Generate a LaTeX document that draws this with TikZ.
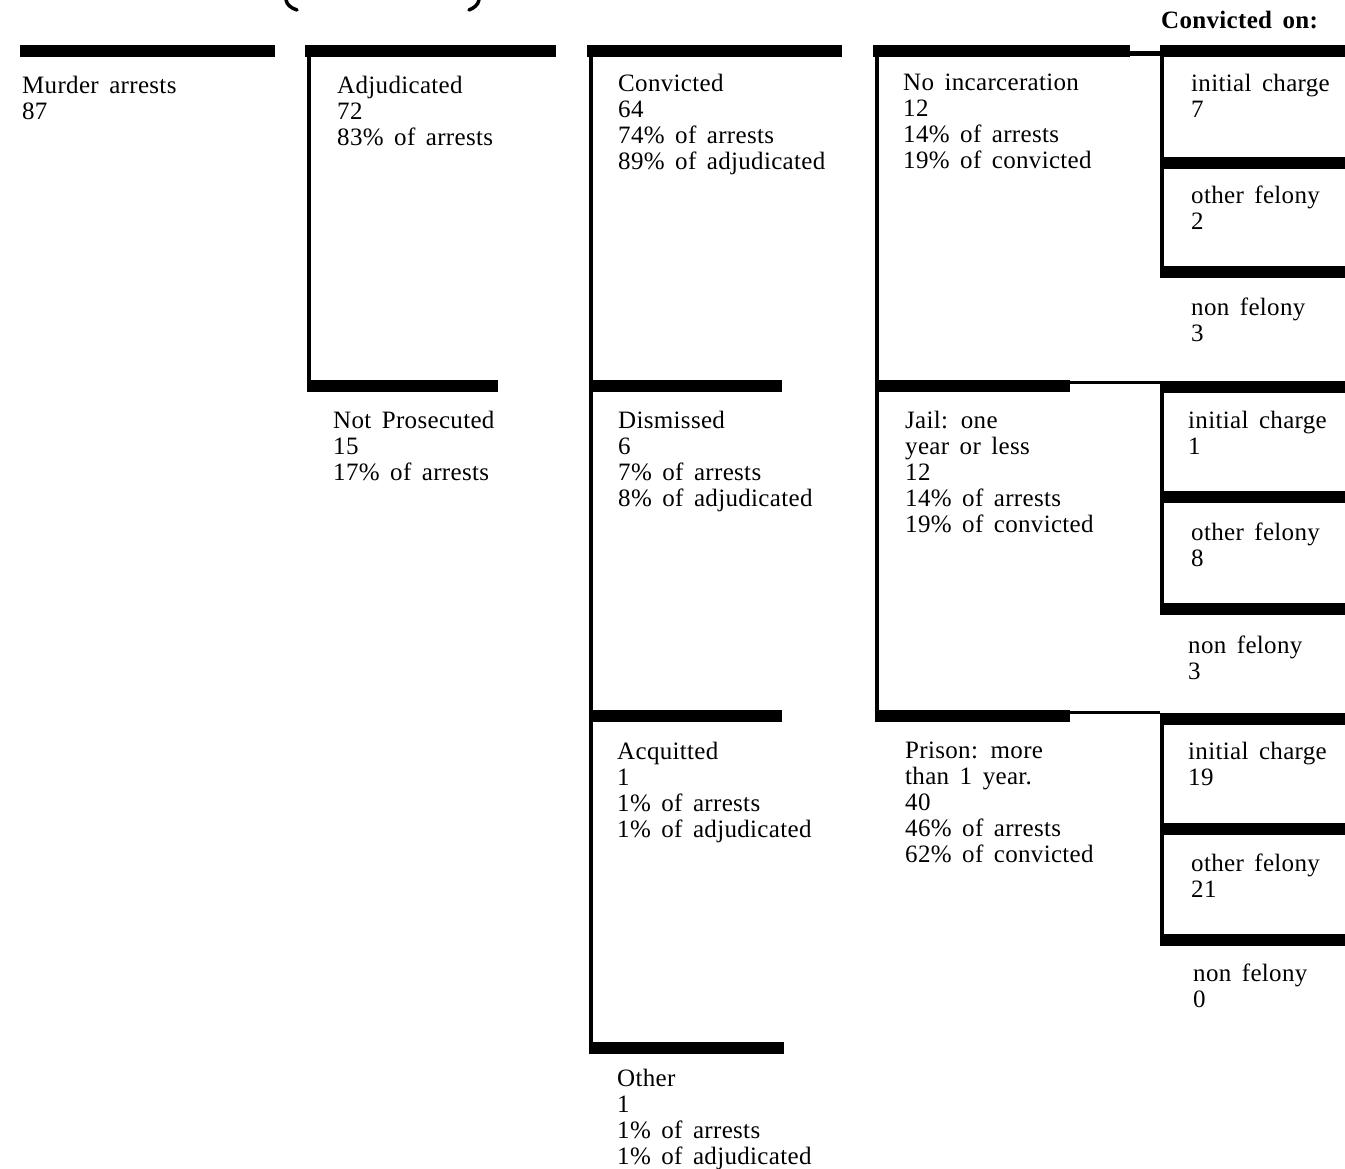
\documentclass[tikz,border=0pt]{standalone}
\usepackage{fontspec}
\setmainfont{Liberation Serif}[LetterSpace=1.3, WordSpace=1.6]
\begin{document}
\begin{tikzpicture}[x=1pt,y=-1pt,
  bar/.style={line width=11.5pt},
  vline/.style={line width=4pt},
  thinline/.style={line width=3pt},
  lbl/.style={anchor=north west, inner sep=0pt, align=left, font=\fontsize{25}{26}\selectfont},
  paren/.style={line width=3.5pt, line cap=round}]
\useasboundingbox (0,0) rectangle (1345,1169);

% partial brackets at the top
\coordinate (pl1) at (286,0); \coordinate (pl2) at (297,10);
\coordinate (pr1) at (479,0); \coordinate (pr2) at (469,10);
\draw[paren] (pl1) .. controls (287,5) and (291,8) .. (pl2);
\draw[paren] (pr1) .. controls (478,5) and (474,8) .. (pr2);

\node[anchor=north west, inner sep=0pt, font=\fontsize{25}{26}\selectfont\bfseries] (convon) at (1161,11) {Convicted on:};

% column 1
\draw[bar] (20,51) -- (275,51);
\node[lbl] (arrests) at (22,76) {Murder arrests\\87};

% column 2
\draw[bar] (305,51) -- (556,51);
\draw[vline] (309,51) -- (309,388);
\draw[bar] (307,386) -- (498,386);
\node[lbl] (adj) at (337,76) {Adjudicated\\72\\83\% of arrests};
\node[lbl] (notpros) at (333,411) {Not Prosecuted\\15\\17\% of arrests};

% column 3
\draw[bar] (587,51) -- (842,51);
\draw[vline] (591,51) -- (591,1050);
\draw[bar] (589,386) -- (782,386);
\draw[bar] (589,716) -- (782,716);
\draw[bar] (589,1048) -- (784,1048);
\node[lbl] (conv) at (618,74) {Convicted\\64\\74\% of arrests\\89\% of adjudicated};
\node[lbl] (dism) at (618,411) {Dismissed\\6\\7\% of arrests\\8\% of adjudicated};
\node[lbl] (acq) at (617,742) {Acquitted\\1\\1\% of arrests\\1\% of adjudicated};
\node[lbl] (other) at (617,1069) {Other\\1\\1\% of arrests\\1\% of adjudicated};

% column 4
\draw[bar] (873,51) -- (1130,51);
\draw[line width=5pt] (1130,54) -- (1160,54);
\draw[bar] (1160,51) -- (1345,51);
\draw[vline] (877,51) -- (877,718);
\draw[bar] (875,386) -- (1070,386);
\draw[thinline] (1070,382.5) -- (1160,382.5);
\draw[bar] (875,716) -- (1070,716);
\draw[thinline] (1070,712) -- (1160,712);
\node[lbl] (noinc) at (903,74) {No incarceration\\12\\14\% of arrests\\19\% of convicted};
\node[lbl] (jail) at (905,411) {Jail: one\\year or less\\12\\14\% of arrests\\19\% of convicted};
\node[lbl] (prison) at (905,742) {Prison: more\\than 1 year.\\40\\46\% of arrests\\62\% of convicted};

% column 5, group 1
\draw[vline] (1162,51) -- (1162,274);
\draw[bar] (1160,163) -- (1345,163);
\draw[bar] (1160,272) -- (1345,272);
\node[lbl] (ic1) at (1191,74) {initial charge\\7};
\node[lbl] (of1) at (1191,186) {other felony\\2};
\node[lbl] (nf1) at (1191,298) {non felony\\3};

% column 5, group 2
\draw[bar] (1160,387) -- (1345,387);
\draw[vline] (1162,387) -- (1162,611);
\draw[bar] (1160,497) -- (1345,497);
\draw[bar] (1160,609) -- (1345,609);
\node[lbl] (ic2) at (1188,411) {initial charge\\1};
\node[lbl] (of2) at (1191,523) {other felony\\8};
\node[lbl] (nf2) at (1188,636) {non felony\\3};

% column 5, group 3
\draw[bar] (1160,719) -- (1345,719);
\draw[vline] (1162,719) -- (1162,942);
\draw[bar] (1160,829) -- (1345,829);
\draw[bar] (1160,940) -- (1345,940);
\node[lbl] (ic3) at (1188,742) {initial charge\\19};
\node[lbl] (of3) at (1191,854) {other felony\\21};
\node[lbl] (nf3) at (1193,964) {non felony\\0};
\end{tikzpicture}
\end{document}
